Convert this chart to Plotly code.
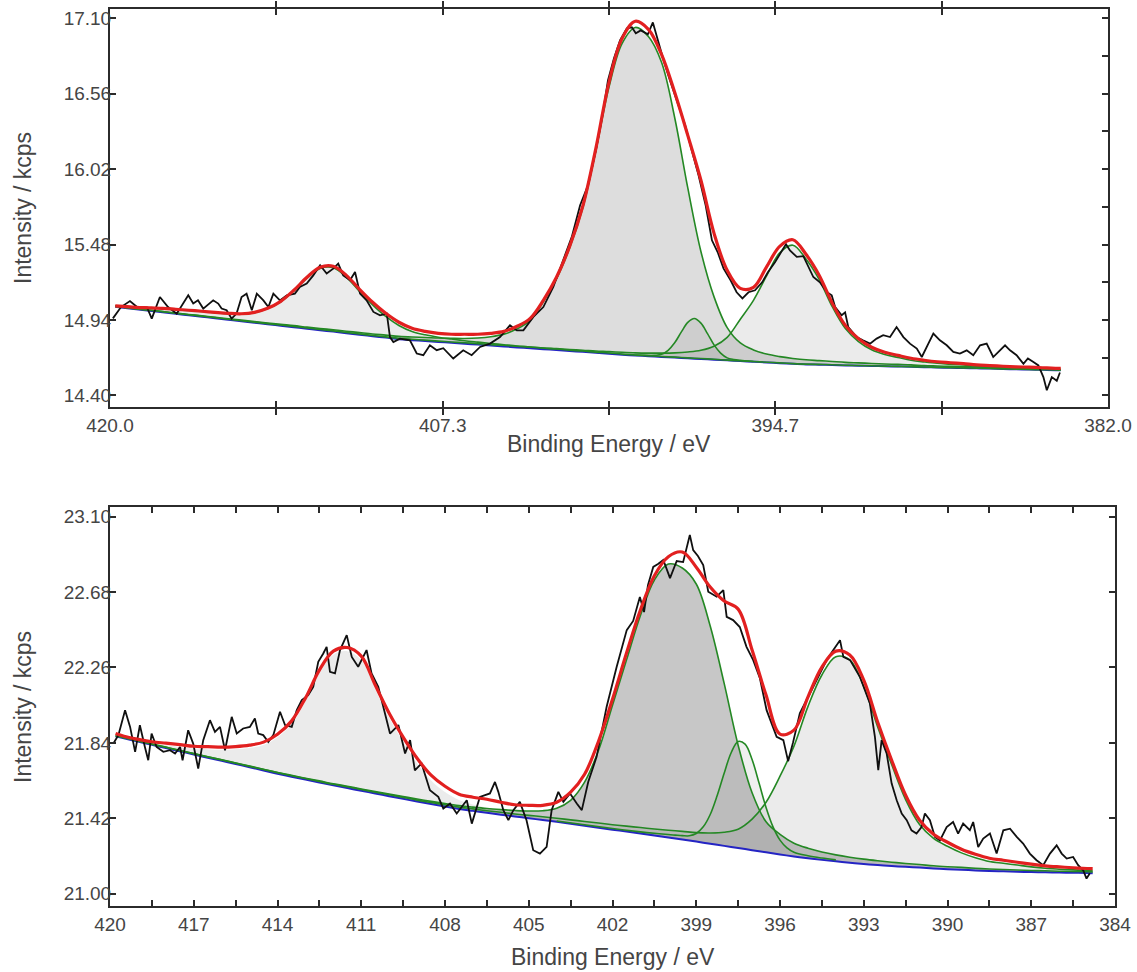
import plotly.graph_objects as go

# ---------------- TOP PANEL DATA ----------------
top_be = [419.8, 419.5, 419.0, 418.5, 418.0, 417.5, 417.0, 416.5, 416.0, 415.5, 415.0,
          414.5, 414.0, 413.5, 413.0, 412.5, 412.0, 411.5, 411.0, 410.5, 410.0,
          409.5, 409.0, 408.5, 408.0, 407.5, 407.0, 406.5, 406.0, 405.5, 405.0,
          404.5, 404.0, 403.5, 403.0, 402.5, 402.0, 401.5, 401.0, 400.5, 400.0,
          399.5, 399.0, 398.5, 398.0, 397.5, 397.0, 396.5, 396.0, 395.5, 395.0,
          394.5, 394.0, 393.5, 393.0, 392.5, 392.0, 391.5, 391.0, 390.5, 390.0,
          389.5, 389.0, 388.5, 388.0, 387.5, 387.0, 386.5, 386.0, 385.5, 385.0,
          384.5, 384.0, 383.8]
top_bg = [15.034, 15.027, 15.016, 15.006, 14.995, 14.984, 14.973, 14.963, 14.952, 14.941, 14.930,
          14.920, 14.909, 14.898, 14.888, 14.877, 14.866, 14.856, 14.845, 14.834, 14.823,
          14.813, 14.802, 14.795, 14.789, 14.782, 14.776, 14.769, 14.763, 14.756, 14.750,
          14.743, 14.737, 14.730, 14.724, 14.717, 14.711, 14.704, 14.698, 14.691, 14.685,
          14.680, 14.675, 14.670, 14.665, 14.660, 14.655, 14.650, 14.645, 14.640, 14.635,
          14.630, 14.625, 14.621, 14.619, 14.617, 14.614, 14.612, 14.610, 14.608, 14.606,
          14.604, 14.601, 14.599, 14.597, 14.595, 14.593, 14.591, 14.588, 14.586, 14.584,
          14.582, 14.580, 14.579]
top_env = [15.041, 15.037, 15.030, 15.027, 15.023, 15.016, 15.009, 15.002, 14.994, 14.987, 14.984,
           14.994, 15.023, 15.073, 15.152, 15.245, 15.317, 15.324, 15.259, 15.159, 15.066,
           14.987, 14.923, 14.880, 14.858, 14.844, 14.837, 14.837, 14.837, 14.844, 14.858,
           14.894, 14.951, 15.080, 15.245, 15.467, 15.754, 16.169, 16.642, 16.957, 17.079,
           17.021, 16.842, 16.570, 16.262, 15.940, 15.560, 15.295, 15.166, 15.173, 15.320,
           15.467, 15.514, 15.410, 15.260, 15.060, 14.900, 14.805, 14.744, 14.708, 14.686,
           14.665, 14.651, 14.640, 14.633, 14.626, 14.618, 14.613, 14.608, 14.604, 14.601,
           14.597, 14.593, 14.592]
# component heights above background
top_c1 = [0.007, 0.010, 0.014, 0.020, 0.027, 0.030, 0.034, 0.037, 0.040, 0.044, 0.052,
          0.072, 0.112, 0.172, 0.260, 0.362, 0.443, 0.458, 0.402, 0.310, 0.225,
          0.152, 0.098, 0.062, 0.044, 0.034, 0.027, 0.022, 0.018, 0.015, 0.012,
          0.010, 0.009, 0.008, 0.007, 0.006, 0.006, 0.005, 0.005, 0.004, 0.004,
          0.004, 0.003, 0.003, 0.003, 0.003, 0.003, 0.002, 0.002, 0.002, 0.002,
          0.002, 0.002, 0.002, 0.002, 0.002, 0.001, 0.001, 0.001, 0.001, 0.001,
          0.001, 0.001, 0.001, 0.001, 0.001, 0.001, 0.001, 0.001, 0.001, 0.001,
          0.001, 0.001, 0.001]
top_c2 = [0.004, 0.004, 0.004, 0.005, 0.005, 0.005, 0.006, 0.006, 0.007, 0.007, 0.008,
          0.008, 0.009, 0.010, 0.011, 0.011, 0.012, 0.013, 0.014, 0.015, 0.016,
          0.018, 0.020, 0.022, 0.025, 0.028, 0.032, 0.038, 0.047, 0.063, 0.088,
          0.133, 0.200, 0.340, 0.510, 0.738, 1.030, 1.450, 1.910, 2.230, 2.350,
          2.290, 2.110, 1.720, 1.220, 0.770, 0.450, 0.235, 0.130, 0.085, 0.060,
          0.047, 0.039, 0.033, 0.029, 0.025, 0.022, 0.020, 0.018, 0.016, 0.015,
          0.014, 0.012, 0.011, 0.010, 0.0095, 0.009, 0.0085, 0.008, 0.0075, 0.007,
          0.0065, 0.006, 0.006]
top_c4 = [0.003, 0.003, 0.003, 0.003, 0.004, 0.004, 0.004, 0.004, 0.004, 0.004, 0.004,
          0.004, 0.004, 0.005, 0.005, 0.005, 0.005, 0.005, 0.005, 0.005, 0.005,
          0.005, 0.006, 0.006, 0.006, 0.006, 0.006, 0.007, 0.007, 0.007, 0.008,
          0.008, 0.009, 0.009, 0.010, 0.011, 0.012, 0.013, 0.015, 0.017, 0.019,
          0.022, 0.027, 0.034, 0.045, 0.062, 0.096, 0.165, 0.300, 0.440, 0.620,
          0.790, 0.850, 0.756, 0.612, 0.418, 0.264, 0.173, 0.116, 0.084, 0.065,
          0.047, 0.038, 0.030, 0.026, 0.022, 0.016, 0.014, 0.012, 0.011, 0.010,
          0.009, 0.007, 0.007]
# narrow component (absolute intensity)
top_c3_be = [400.0, 399.75, 399.5, 399.25, 399.0, 398.75, 398.5, 398.25, 398.0, 397.75,
             397.5, 397.25, 397.0, 396.75, 396.5, 396.25, 396.0, 395.75, 395.5]
top_c3 = [14.687, 14.686, 14.685, 14.686, 14.693, 14.722, 14.776, 14.852, 14.922, 14.950,
          14.917, 14.842, 14.761, 14.702, 14.668, 14.656, 14.650, 14.646, 14.642]
# raw spectrum
top_raw_be = [419.89, 419.73, 419.58, 419.24, 418.97, 418.59, 418.41, 418.10, 417.79, 417.46,
              417.27, 417.02, 416.83, 416.65, 416.45, 416.19, 416.07, 415.88, 415.75, 415.56,
              415.37, 415.18, 414.99, 414.80, 414.60, 414.41, 414.16, 413.97, 413.78, 413.53,
              413.27, 412.96, 412.77, 412.51, 412.26, 412.00, 411.75, 411.50, 411.31, 411.12,
              410.86, 410.67, 410.48, 410.23, 409.97, 409.72, 409.46, 409.34, 409.21, 408.96,
              408.58, 408.32, 408.07, 407.82, 407.56, 407.31, 406.93, 406.55, 406.23, 405.91,
              405.53, 405.15, 404.77, 404.51, 404.26, 403.88, 403.50, 403.12, 402.74, 402.41,
              402.10, 401.80, 401.50, 401.23, 401.04, 400.81, 400.58, 400.32, 400.13, 399.98,
              399.79, 399.52, 399.33, 399.17, 398.90, 398.68, 398.41, 398.10, 397.85, 397.59,
              397.32, 397.08, 396.86, 396.64, 396.37, 396.14, 395.92, 395.69, 395.44, 395.17,
              394.95, 394.68, 394.45, 394.26, 394.11, 393.85, 393.60, 393.42, 393.22, 392.97,
              392.71, 392.52, 392.39, 392.14, 392.01, 391.89, 391.57, 391.33, 391.06, 390.81,
              390.56, 390.30, 390.05, 389.79, 389.54, 389.28, 389.09, 388.84, 388.65, 388.40,
              388.14, 387.89, 387.64, 387.38, 387.13, 386.87, 386.62, 386.37, 386.11, 385.92,
              385.73, 385.48, 385.22, 385.05, 384.84, 384.65, 384.46, 384.33, 384.14, 383.95,
              383.83]
top_raw = [14.951, 14.994, 15.032, 15.075, 15.032, 15.030, 14.949, 15.104, 15.032, 14.985,
           15.045, 15.116, 15.057, 15.080, 15.021, 15.057, 15.080, 15.057, 15.021, 15.009,
           14.949, 14.985, 15.104, 15.128, 15.009, 15.128, 15.080, 15.032, 15.128, 15.080,
           15.116, 15.128, 15.176, 15.200, 15.259, 15.331, 15.272, 15.307, 15.343, 15.259,
           15.224, 15.283, 15.128, 15.080, 14.997, 14.973, 14.985, 14.817, 14.781, 14.806,
           14.794, 14.699, 14.687, 14.758, 14.723, 14.737, 14.663, 14.722, 14.687, 14.746,
           14.770, 14.817, 14.901, 14.865, 14.865, 14.961, 15.032, 15.176, 15.367, 15.539,
           15.761, 15.904, 16.155, 16.427, 16.656, 16.814, 16.943, 17.028, 17.036, 16.993,
           17.014, 16.986, 17.071, 16.957, 16.785, 16.656, 16.513, 16.334, 16.155, 15.976,
           15.761, 15.510, 15.424, 15.309, 15.224, 15.138, 15.094, 15.138, 15.152, 15.209,
           15.281, 15.353, 15.424, 15.482, 15.438, 15.391, 15.396, 15.324, 15.247, 15.209,
           15.140, 15.116, 15.032, 14.973, 14.994, 14.889, 14.817, 14.794, 14.770, 14.806,
           14.830, 14.817, 14.889, 14.817, 14.770, 14.734, 14.674, 14.770, 14.842, 14.794,
           14.758, 14.710, 14.699, 14.722, 14.687, 14.758, 14.770, 14.674, 14.722, 14.758,
           14.722, 14.687, 14.626, 14.664, 14.638, 14.614, 14.530, 14.436, 14.530, 14.504,
           14.563]

top_xticks = [420.0, 413.667, 407.333, 401.0, 394.667, 388.333, 382.0]
top_xlabels = ["420.0", "", "407.3", "", "394.7", "", "382.0"]
top_yticks = [14.40, 14.94, 15.48, 16.02, 16.56, 17.10]
top_yticks_right = [14.40, 14.67, 14.94, 15.21, 15.48, 15.75, 16.02, 16.29, 16.56, 16.83, 17.10]

# ---------------- BOTTOM PANEL DATA ----------------
bot_be = [419.8, 419.5, 419.0, 418.5, 418.0, 417.5, 417.0, 416.5, 416.0, 415.5, 415.0,
          414.5, 414.0, 413.5, 413.0, 412.5, 412.0, 411.5, 411.0, 410.5, 410.0,
          409.5, 409.0, 408.5, 408.0, 407.5, 407.0, 406.5, 406.0, 405.5, 405.0,
          404.5, 404.0, 403.5, 403.0, 402.5, 402.0, 401.5, 401.0, 400.5, 400.0,
          399.5, 399.0, 398.5, 398.0, 397.5, 397.0, 396.5, 396.0, 395.5, 395.0,
          394.5, 394.0, 393.5, 393.0, 392.5, 392.0, 391.5, 391.0, 390.5, 390.0,
          389.5, 389.0, 388.5, 388.0, 387.5, 387.0, 386.5, 386.0, 385.5, 385.0,
          384.8]
bot_bg = [21.876, 21.865, 21.847, 21.829, 21.811, 21.793, 21.775, 21.757, 21.740, 21.722, 21.704,
          21.686, 21.668, 21.651, 21.635, 21.619, 21.603, 21.588, 21.573, 21.558, 21.543,
          21.528, 21.513, 21.499, 21.485, 21.472, 21.461, 21.450, 21.440, 21.430, 21.420,
          21.410, 21.400, 21.389, 21.378, 21.367, 21.356, 21.346, 21.335, 21.324, 21.313,
          21.302, 21.290, 21.278, 21.266, 21.254, 21.242, 21.230, 21.218, 21.207, 21.197,
          21.188, 21.180, 21.172, 21.165, 21.159, 21.154, 21.149, 21.145, 21.140, 21.136,
          21.133, 21.129, 21.126, 21.124, 21.122, 21.120, 21.119, 21.117, 21.116, 21.115,
          21.114]
bot_env = [21.892, 21.877, 21.860, 21.846, 21.838, 21.830, 21.821, 21.819, 21.816, 21.819, 21.827,
           21.844, 21.888, 21.961, 22.089, 22.245, 22.351, 22.371, 22.323, 22.162, 22.005,
           21.872, 21.754, 21.660, 21.598, 21.554, 21.537, 21.526, 21.509, 21.495, 21.492,
           21.492, 21.509, 21.565, 21.665, 21.849, 22.083, 22.339, 22.580, 22.771, 22.877,
           22.903, 22.819, 22.708, 22.630, 22.585, 22.357, 22.106, 21.889, 21.911, 22.095,
           22.262, 22.351, 22.329, 22.189, 21.955, 21.743, 21.548, 21.409, 21.331, 21.286,
           21.247, 21.219, 21.197, 21.186, 21.175, 21.164, 21.155, 21.149, 21.144, 21.140,
           21.139]
bot_c1 = [0.004, 0.004, 0.005, 0.007, 0.015, 0.024, 0.033, 0.048, 0.061, 0.082, 0.107,
          0.142, 0.203, 0.292, 0.436, 0.607, 0.728, 0.762, 0.728, 0.581, 0.437,
          0.318, 0.213, 0.131, 0.081, 0.050, 0.036, 0.028, 0.022, 0.017, 0.013,
          0.010, 0.009, 0.008, 0.007, 0.007, 0.006, 0.006, 0.006, 0.005, 0.005,
          0.005, 0.005, 0.004, 0.004, 0.004, 0.004, 0.004, 0.003, 0.003, 0.003,
          0.003, 0.003, 0.003, 0.003, 0.003, 0.003, 0.003, 0.003, 0.003, 0.003,
          0.003, 0.003, 0.003, 0.002, 0.002, 0.002, 0.002, 0.002, 0.002, 0.002,
          0.002]
bot_c2 = [0.004, 0.004, 0.004, 0.004, 0.005, 0.005, 0.005, 0.006, 0.006, 0.006, 0.007,
          0.007, 0.007, 0.008, 0.008, 0.009, 0.009, 0.010, 0.010, 0.011, 0.012,
          0.013, 0.014, 0.015, 0.017, 0.019, 0.021, 0.024, 0.028, 0.033, 0.040,
          0.052, 0.076, 0.131, 0.243, 0.432, 0.694, 0.955, 1.215, 1.423, 1.523,
          1.512, 1.435, 1.213, 0.905, 0.573, 0.320, 0.170, 0.112, 0.074, 0.056,
          0.044, 0.036, 0.031, 0.027, 0.024, 0.021, 0.019, 0.017, 0.015, 0.014,
          0.013, 0.012, 0.011, 0.010, 0.0095, 0.009, 0.0085, 0.008, 0.0075, 0.007,
          0.007]
bot_c4 = [0.004, 0.004, 0.004, 0.004, 0.004, 0.004, 0.005, 0.005, 0.005, 0.005, 0.005,
          0.005, 0.006, 0.006, 0.006, 0.006, 0.006, 0.007, 0.007, 0.007, 0.008,
          0.008, 0.008, 0.009, 0.010, 0.010, 0.011, 0.012, 0.013, 0.014, 0.016,
          0.018, 0.020, 0.022, 0.024, 0.026, 0.028, 0.030, 0.033, 0.036, 0.040,
          0.045, 0.050, 0.060, 0.076, 0.105, 0.173, 0.279, 0.436, 0.615, 0.845,
          1.030, 1.140, 1.130, 0.990, 0.770, 0.565, 0.375, 0.240, 0.168, 0.128,
          0.094, 0.071, 0.053, 0.045, 0.037, 0.029, 0.022, 0.019, 0.016, 0.014,
          0.014]
bot_c3_be = [404.0, 403.0, 402.0, 401.0, 400.5, 400.0, 399.75, 399.5, 399.25, 399.0,
             398.75, 398.5, 398.25, 398.0, 397.75, 397.5, 397.25, 397.0, 396.75, 396.5,
             396.25, 396.0, 395.75, 395.5, 395.0, 394.5, 394.0]
bot_c3 = [21.405, 21.384, 21.363, 21.344, 21.336, 21.329, 21.326, 21.323, 21.322, 21.335,
          21.372, 21.441, 21.547, 21.671, 21.785, 21.848, 21.833, 21.747, 21.616, 21.480,
          21.372, 21.298, 21.255, 21.231, 21.211, 21.198, 21.188]
bot_raw_be = [419.88, 419.70, 419.46, 419.28, 419.10, 418.93, 418.75, 418.63, 418.51, 418.33,
              418.09, 417.85, 417.67, 417.49, 417.40, 417.20, 417.02, 416.84, 416.66, 416.42,
              416.24, 416.06, 415.88, 415.64, 415.46, 415.23, 414.99, 414.81, 414.69, 414.51,
              414.33, 414.15, 413.91, 413.73, 413.49, 413.31, 413.13, 412.90, 412.72, 412.54,
              412.36, 412.24, 412.12, 411.94, 411.76, 411.52, 411.34, 411.11, 410.81, 410.63,
              410.39, 410.21, 409.97, 409.67, 409.43, 409.25, 409.08, 408.84, 408.54, 408.24,
              408.06, 407.82, 407.58, 407.22, 407.04, 406.75, 406.39, 406.21, 406.09, 405.91,
              405.73, 405.55, 405.32, 405.08, 404.84, 404.60, 404.36, 404.18, 403.94, 403.76,
              403.52, 403.28, 403.10, 402.87, 402.57, 402.21, 401.85, 401.49, 401.26, 401.02,
              400.87, 400.73, 400.54, 400.37, 400.18, 399.94, 399.70, 399.47, 399.23, 399.11,
              398.94, 398.75, 398.57, 398.27, 398.03, 397.91, 397.68, 397.44, 397.20, 396.96,
              396.72, 396.48, 396.12, 395.88, 395.71, 395.53, 395.29, 394.93, 394.69, 394.33,
              394.09, 393.85, 393.73, 393.49, 393.14, 392.78, 392.60, 392.48, 392.36, 392.18,
              392.00, 391.82, 391.64, 391.46, 391.29, 391.11, 390.93, 390.81, 390.63, 390.45,
              390.27, 390.03, 389.80, 389.62, 389.44, 389.20, 389.08, 388.90, 388.72, 388.48,
              388.24, 388.00, 387.76, 387.52, 387.29, 387.05, 386.81, 386.57, 386.33, 386.09,
              385.91, 385.73, 385.50, 385.32, 385.14, 385.02, 384.90]
bot_raw = [21.836, 21.883, 22.022, 21.929, 21.790, 21.938, 21.817, 21.743, 21.892, 21.817,
           21.790, 21.799, 21.781, 21.817, 21.743, 21.910, 21.836, 21.697, 21.855, 21.966,
           21.901, 21.929, 21.799, 21.985, 21.892, 21.920, 21.929, 21.976, 21.892, 21.883,
           21.845, 21.883, 22.013, 21.939, 21.929, 22.022, 22.078, 22.106, 22.152, 22.292,
           22.338, 22.375, 22.236, 22.227, 22.357, 22.440, 22.319, 22.264, 22.357, 22.227,
           22.152, 22.040, 21.892, 21.939, 21.781, 21.855, 21.687, 21.725, 21.576, 21.539,
           21.474, 21.502, 21.446, 21.520, 21.390, 21.539, 21.558, 21.622, 21.567, 21.465,
           21.409, 21.465, 21.511, 21.409, 21.242, 21.223, 21.260, 21.465, 21.567, 21.511,
           21.558, 21.502, 21.465, 21.622, 21.762, 22.041, 22.264, 22.468, 22.519, 22.652,
           22.569, 22.719, 22.820, 22.836, 22.859, 22.758, 22.853, 22.847, 22.998, 22.914,
           22.881, 22.831, 22.682, 22.654, 22.691, 22.542, 22.524, 22.485, 22.375, 22.301,
           22.200, 22.022, 21.874, 21.855, 21.738, 21.844, 22.004, 22.115, 22.189, 22.301,
           22.357, 22.412, 22.319, 22.301, 22.208, 22.059, 21.873, 21.688, 21.855, 21.781,
           21.613, 21.520, 21.446, 21.409, 21.353, 21.335, 21.371, 21.446, 21.409, 21.316,
           21.297, 21.371, 21.399, 21.334, 21.390, 21.353, 21.399, 21.260, 21.307, 21.335,
           21.223, 21.353, 21.362, 21.316, 21.279, 21.223, 21.186, 21.158, 21.223, 21.269,
           21.223, 21.195, 21.204, 21.158, 21.130, 21.084, 21.113]

bot_xticks = [420, 418.5, 417, 415.5, 414, 412.5, 411, 409.5, 408, 406.5, 405, 403.5, 402,
              400.5, 399, 397.5, 396, 394.5, 393, 391.5, 390, 388.5, 387, 385.5, 384]
bot_xlabels = ["420", "", "417", "", "414", "", "411", "", "408", "", "405", "", "402",
               "", "399", "", "396", "", "393", "", "390", "", "387", "", "384"]
bot_yticks = [21.00, 21.42, 21.84, 22.26, 22.68, 23.10]

for a, b in [(top_be, top_bg), (top_be, top_env), (top_be, top_c1), (top_be, top_c2),
             (top_be, top_c4), (top_c3_be, top_c3), (top_raw_be, top_raw),
             (bot_be, bot_bg), (bot_be, bot_env), (bot_be, bot_c1), (bot_be, bot_c2),
             (bot_be, bot_c4), (bot_c3_be, bot_c3), (bot_raw_be, bot_raw)]:
    assert len(a) == len(b), (len(a), len(b))

# ---------------- BUILD FIGURE ----------------
RED = "rgb(226,32,32)"
GREEN = "rgb(36,136,36)"
BLUE = "rgb(36,36,196)"
BLACK = "#101010"
AXC = "#2b2b2b"
TXT = "#454545"
FONT = "Arial, Liberation Sans, sans-serif"

fig = go.Figure()


def on_bg(bg, h):
    return [b + v for b, v in zip(bg, h)]


def add_fill(be, base, comp_be, comp, color, xa, ya):
    fig.add_trace(go.Scatter(x=be, y=base, mode="lines", line=dict(width=0, shape="spline"),
                             hoverinfo="skip", showlegend=False, xaxis=xa, yaxis=ya))
    fig.add_trace(go.Scatter(x=comp_be, y=comp, mode="lines", line=dict(width=0, shape="spline"),
                             fill="tonexty", fillcolor=color, hoverinfo="skip",
                             showlegend=False, xaxis=xa, yaxis=ya))


def line(be, y, color, width, xa, ya, shape="spline"):
    fig.add_trace(go.Scatter(x=be, y=y, mode="lines", line=dict(color=color, width=width, shape=shape),
                             hoverinfo="skip", showlegend=False, xaxis=xa, yaxis=ya))


def bg_slice(be, bg, e0, e1):
    i0, i1 = be.index(e0), be.index(e1)
    return be[i0:i1 + 1], bg[i0:i1 + 1]


LIGHT = "rgba(100,100,100,0.13)"

# top panel
t1 = on_bg(top_bg, top_c1)
t2 = on_bg(top_bg, top_c2)
t4 = on_bg(top_bg, top_c4)
add_fill(top_be, top_bg, top_be, t1, LIGHT, "x", "y")
add_fill(top_be, top_bg, top_be, t2, "rgba(100,100,100,0.22)", "x", "y")
add_fill(top_be, top_bg, top_be, t4, LIGHT, "x", "y")
sb, sy = bg_slice(top_be, top_bg, 400.0, 395.5)
add_fill(sb, sy, top_c3_be, top_c3, "rgba(100,100,100,0.12)", "x", "y")
line(top_be, top_bg, BLUE, 2, "x", "y")
for comp in (t1, t2, t4):
    line(top_be, comp, GREEN, 1.6, "x", "y")
line(top_c3_be, top_c3, GREEN, 1.6, "x", "y")
line(top_raw_be, top_raw, BLACK, 1.8, "x", "y", shape="linear")
line(top_be, top_env, RED, 3.2, "x", "y")

# bottom panel
b1 = on_bg(bot_bg, bot_c1)
b2 = on_bg(bot_bg, bot_c2)
b4 = on_bg(bot_bg, bot_c4)
add_fill(bot_be, bot_bg, bot_be, b1, LIGHT, "x2", "y2")
add_fill(bot_be, bot_bg, bot_be, b2, "rgba(100,100,100,0.36)", "x2", "y2")
add_fill(bot_be, bot_bg, bot_be, b4, LIGHT, "x2", "y2")
sb, sy = bg_slice(bot_be, bot_bg, 404.0, 394.0)
add_fill(sb, sy, bot_c3_be, bot_c3, "rgba(100,100,100,0.10)", "x2", "y2")
line(bot_be, bot_bg, BLUE, 2, "x2", "y2")
for comp in (b2, b4):
    line(bot_be, comp, GREEN, 1.6, "x2", "y2")
line(bot_c3_be, bot_c3, GREEN, 1.6, "x2", "y2")
line(bot_raw_be, bot_raw, BLACK, 1.8, "x2", "y2", shape="linear")
line(bot_be, bot_env, RED, 3.2, "x2", "y2")

W, H = 1137, 972
tickfont = dict(family=FONT, size=19, color=TXT)
common = dict(showgrid=False, zeroline=False, showline=True, linecolor=AXC, linewidth=2,
              ticks="inside", tickcolor=AXC, tickwidth=1.5, ticklen=6, tickfont=tickfont,
              tickmode="array", fixedrange=True, automargin=False)

top_yrange = [14.316, 17.167]
fig.update_layout(
    width=W, height=H, margin=dict(l=0, r=0, t=0, b=0, pad=0, autoexpand=False),
    paper_bgcolor="white", plot_bgcolor="white", showlegend=False,
    xaxis=dict(domain=[110 / W, 1108 / W], range=[420, 382], anchor="y",
               tickvals=top_xticks, ticktext=top_xlabels, mirror="allticks", **common),
    yaxis=dict(domain=[1 - 407 / H, 1 - 9 / H], range=top_yrange, anchor="x",
               tickvals=top_yticks, ticktext=["%.2f" % v for v in top_yticks], mirror=True,
               ticklabelstandoff=-7, **common),
    yaxis3=dict(overlaying="y", side="right", anchor="x", range=top_yrange, showgrid=False,
                zeroline=False, showline=False, ticks="inside", tickcolor=AXC, tickwidth=1.5,
                ticklen=6, tickmode="array", tickvals=top_yticks_right, showticklabels=False,
                fixedrange=True, automargin=False),
    xaxis2=dict(domain=[110 / W, 1115 / W], range=[420, 384], anchor="y2",
                tickvals=bot_xticks, ticktext=bot_xlabels, mirror="allticks", **common),
    yaxis2=dict(domain=[1 - 906 / H, 1 - 507 / H], range=[20.931, 23.154], anchor="x2",
                tickvals=bot_yticks, ticktext=["%.2f" % v for v in bot_yticks], mirror="allticks",
                ticklabelstandoff=-7, **common),
)
# invisible marker so that the right-hand tick axis is drawn
fig.add_trace(go.Scatter(x=[401], y=[15.0], mode="markers", marker=dict(opacity=0),
                         hoverinfo="skip", showlegend=False, xaxis="x", yaxis="y3"))

title_font = dict(family=FONT, size=23, color=TXT)
anns = [
    dict(text="Intensity / kcps", x=23 / W, y=1 - 208 / H, textangle=-90),
    dict(text="Intensity / kcps", x=23 / W, y=1 - 707 / H, textangle=-90),
    dict(text="Binding Energy / eV", x=609 / W, y=1 - 444 / H, textangle=0),
    dict(text="Binding Energy / eV", x=612.5 / W, y=1 - 957 / H, textangle=0),
]
for a in anns:
    fig.add_annotation(xref="paper", yref="paper", showarrow=False, font=title_font,
                       xanchor="center", yanchor="middle", **a)

fig.write_html("out.html")
